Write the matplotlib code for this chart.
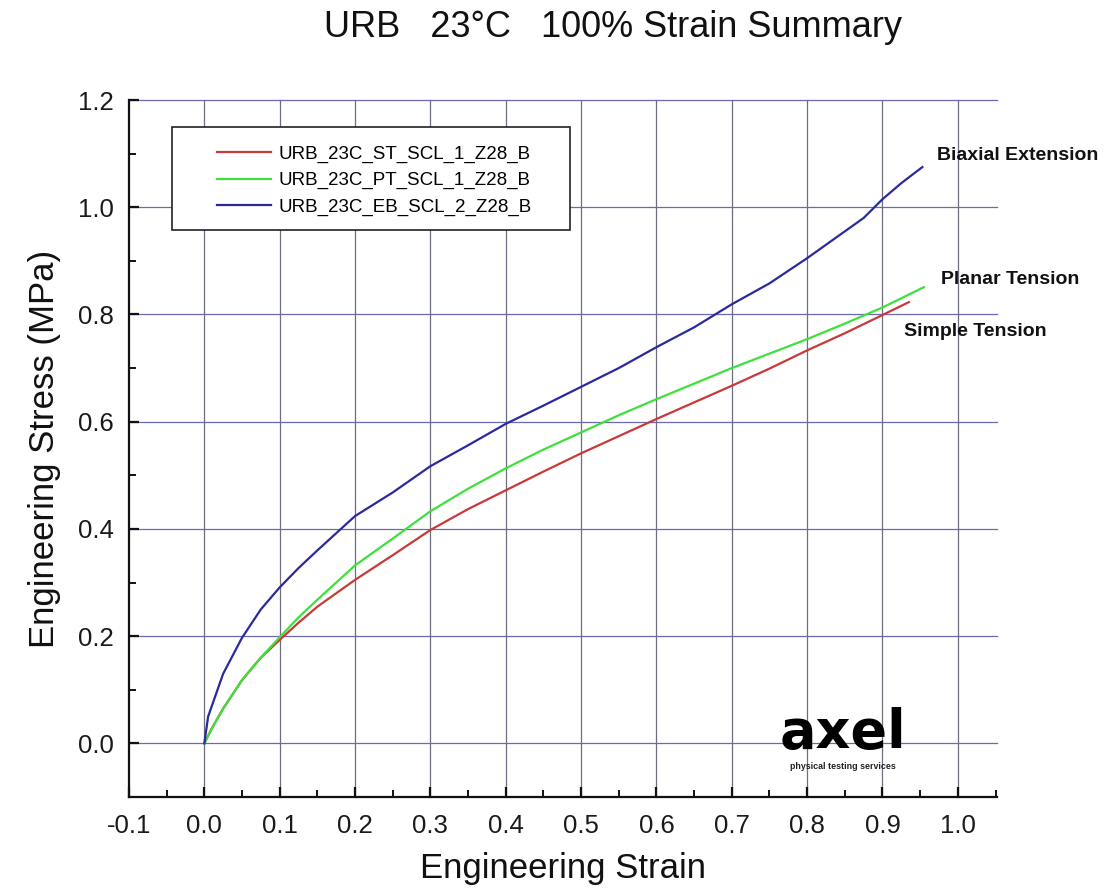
import matplotlib
matplotlib.use("Agg")
import matplotlib.pyplot as plt
from matplotlib.patches import Rectangle
from matplotlib.ticker import MultipleLocator

plt.rcParams['font.family'] = ['Liberation Sans', 'DejaVu Sans']

# Simple tension (ST)
strain_st = [0, 0.01, 0.025, 0.05, 0.075, 0.1, 0.125, 0.15, 0.2, 0.25, 0.3, 0.35,
             0.4, 0.45, 0.5, 0.55, 0.6, 0.65, 0.7, 0.75, 0.8, 0.85, 0.9, 0.935]
stress_st = [0, 0.028, 0.065, 0.118, 0.16, 0.193, 0.225, 0.255, 0.305, 0.351, 0.398, 0.437,
             0.472, 0.507, 0.541, 0.573, 0.605, 0.636, 0.667, 0.699, 0.733, 0.765, 0.799, 0.823]

# Planar tension (PT)
strain_pt = [0, 0.01, 0.025, 0.05, 0.075, 0.1, 0.125, 0.15, 0.2, 0.25, 0.3, 0.35,
             0.4, 0.45, 0.5, 0.55, 0.6, 0.65, 0.7, 0.75, 0.8, 0.85, 0.9, 0.955]
stress_pt = [0, 0.028, 0.065, 0.118, 0.16, 0.198, 0.235, 0.268, 0.332, 0.382, 0.433, 0.475,
             0.513, 0.548, 0.58, 0.612, 0.642, 0.671, 0.700, 0.727, 0.754, 0.783, 0.813, 0.851]

# Equibiaxial extension (EB)
strain_eb = [0, 0.005, 0.015, 0.025, 0.05, 0.075, 0.1, 0.125, 0.15, 0.2, 0.25, 0.3, 0.35,
             0.4, 0.45, 0.5, 0.55, 0.6, 0.65, 0.7, 0.75, 0.8, 0.85, 0.875, 0.9, 0.925, 0.953]
stress_eb = [0, 0.05, 0.09, 0.13, 0.197, 0.25, 0.291, 0.327, 0.36, 0.424, 0.468, 0.517, 0.556,
             0.596, 0.63, 0.665, 0.70, 0.739, 0.776, 0.819, 0.858, 0.905, 0.955, 0.98, 1.015,
             1.045, 1.075]

series_labels = ["URB_23C_ST_SCL_1_Z28_B", "URB_23C_PT_SCL_1_Z28_B", "URB_23C_EB_SCL_2_Z28_B"]
series_colors = ["#c83a3a", "#3ee03e", "#2a2a9a"]
curve_names = ["Simple Tension", "Planar Tension", "Biaxial Extension"]
x_ticks = [-0.1, 0.0, 0.1, 0.2, 0.3, 0.4, 0.5, 0.6, 0.7, 0.8, 0.9, 1.0]
y_ticks = [0.0, 0.2, 0.4, 0.6, 0.8, 1.0, 1.2]

fig = plt.figure(figsize=(11.12, 8.93), dpi=100)
ax = fig.add_axes([0.116, 0.1075, 0.7806, 0.7805])
ax.set_xlim(-0.1, 1.052)
ax.set_ylim(-0.1, 1.2)

# grid: grey verticals, bluish horizontals
for xv in x_ticks[1:]:
    ax.plot([xv, xv], [-0.1, 1.2], color="#6e6e80", lw=0.9, zorder=1, clip_on=False)
for yv in y_ticks:
    ax.plot([-0.1, 1.052], [yv, yv], color="#6a6ab4", lw=0.9, zorder=1, clip_on=False)

datasets = [(strain_st, stress_st), (strain_pt, stress_pt), (strain_eb, stress_eb)]
lines = []
for (xs, ys), lab, col in zip(datasets, series_labels, series_colors):
    ln, = ax.plot(xs, ys, color=col, lw=1.6, label=lab, zorder=3)
    lines.append(ln)

# axes frame: left and bottom only
for s in ["top", "right"]:
    ax.spines[s].set_visible(False)
for s in ["left", "bottom"]:
    ax.spines[s].set_linewidth(1.6)
    ax.spines[s].set_color("#111111")

ax.set_xticks(x_ticks)
ax.set_xticklabels([f"{v:.1f}" for v in x_ticks])
ax.set_yticks(y_ticks)
ax.set_yticklabels([f"{v:.1f}" for v in y_ticks])
ax.xaxis.set_minor_locator(MultipleLocator(0.05))
ax.yaxis.set_minor_locator(MultipleLocator(0.1))
ax.tick_params(which="major", direction="in", length=7, width=1.6, color="#111111",
               labelsize=18.5, labelcolor="#1a1a1a")
ax.tick_params(axis="x", which="major", pad=12)
ax.tick_params(axis="y", which="major", pad=11)
ax.tick_params(which="minor", direction="in", length=5, width=1.4, color="#111111")

ax.set_xlabel("Engineering Strain", fontsize=25, color="#111111", labelpad=10)
ax.set_ylabel("Engineering Stress (MPa)", fontsize=25, color="#111111", labelpad=12)

fig.text(0.551, 0.969, "URB   23°C   100% Strain Summary", ha="center", va="center",
         fontsize=26, color="#111111")

# legend box
ax.add_patch(Rectangle((0.0495, 0.813), 0.4585, 0.148, transform=ax.transAxes,
                       facecolor="white", edgecolor="#222222", lw=1.2, zorder=4))
ax.legend(handles=lines, loc="upper left", bbox_to_anchor=(0.101, 0.935),
          frameon=False, fontsize=13.5, handlelength=2.9, handletextpad=0.4,
          labelspacing=0.5, borderpad=0, borderaxespad=0).set_zorder(5)

# curve names at the ends
name_pos = [(0.928, 0.769), (0.977, 0.866), (0.972, 1.096)]
for name, (tx, ty) in zip(curve_names, name_pos):
    ax.text(tx, ty, name, fontsize=14, fontweight="bold", color="#111111",
            ha="left", va="center", clip_on=False, zorder=6)

# company mark
ax.text(0.848, -0.009, "axel", fontsize=39, fontweight="bold", family="DejaVu Sans",
        ha="center", va="baseline", color="black", zorder=6)
ax.text(0.848, -0.043, "physical testing services", fontsize=6.4, fontweight="bold",
        ha="center", va="center", color="#222222", zorder=6)

fig.savefig("out.png", dpi=100, facecolor="white")
